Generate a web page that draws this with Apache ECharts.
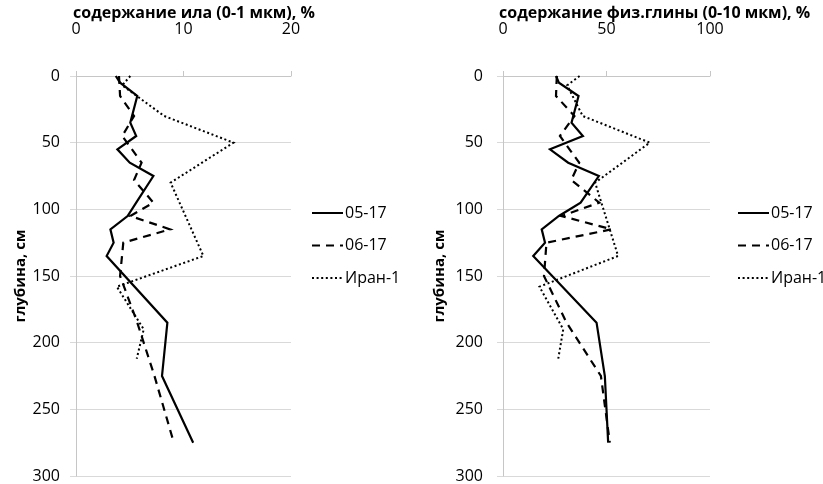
<!DOCTYPE html>
<html>
<head>
<meta charset="utf-8">
<script src="https://cdn.jsdelivr.net/npm/echarts@6/dist/echarts.min.js"></script>
<style>
  html, body { margin: 0; padding: 0; background: #fff; }
  #chart { width: 823px; height: 484px; }
</style>
</head>
<body>
<div id="chart"></div>
<script>
// Depth profiles of two soil fractions for three sections
const seriesNames = ['05-17', '06-17', 'Иран-1'];
const depthTicks = [0, 50, 100, 150, 200, 250, 300];

// Section 05-17
const depth0517 = [0, 5, 15, 35, 45, 55, 65, 75, 95, 105, 115, 125, 135, 185, 225, 275];
const silt0517 = [3.7, 4.1, 5.7, 5.05, 5.6, 3.85, 5.0, 7.2, 5.6, 4.8, 3.2, 3.5, 2.85, 8.5, 8.0, 10.9];
const clay0517 = [25.6, 27, 36.5, 33.1, 38.6, 22.7, 31.5, 46.3, 37.5, 27, 18.7, 20.3, 14.6, 45.2, 49.2, 50.8];

// Section 06-17
const depth0617 = [0, 15, 30, 45, 65, 78, 95, 105, 115, 125, 150, 185, 225, 275];
const silt0617 = [4.0, 4.1, 5.4, 4.3, 6.1, 5.4, 7.2, 5.05, 8.75, 4.4, 4.1, 5.7, 7.3, 9.1];
const clay0617 = [26, 25.6, 34.5, 27.5, 36.8, 33, 46.5, 28.3, 52.4, 21, 19.8, 30.7, 47.3, 51.6];

// Section Иран-1
const depthIran = [0, 7, 30, 50, 80, 135, 158, 190, 212];
const siltIran = [5.05, 4.3, 8.2, 14.65, 8.8, 11.85, 3.8, 6.3, 5.65];
const clayIran = [37, 31, 38.5, 70.9, 44.5, 55.6, 17.6, 29.1, 26.7];

const pairs = (xs, ys) => xs.map((v, i) => [v, ys[i]]);

const FONT = '"Open Sans", "Noto Sans", sans-serif';
const gridColor = '#d9d9d9';
const axisColor = '#c6c6c6';

const lineTypes = [
  { type: 'solid', width: 2.2 },
  { type: [8, 6], width: 2.2 },
  { type: [2, 2.6], width: 2 }
];

function xAxisFor(gridIndex, max, interval) {
  return {
    gridIndex, type: 'value', position: 'top', min: 0, max, interval,
    axisLine: { show: true, lineStyle: { color: axisColor, width: 1 } },
    axisTick: { show: true, inside: false, length: 5, lineStyle: { color: axisColor } },
    splitLine: { show: false },
    axisLabel: { margin: 39, color: '#000', fontFamily: FONT, fontSize: 16 }
  };
}
function yAxisFor(gridIndex) {
  return {
    gridIndex, type: 'value', inverse: true, min: 0, max: 300, interval: 50,
    name: 'глубина, см', nameLocation: 'middle', nameRotate: 90,
    nameGap: gridIndex === 0 ? 47 : 56,
    nameTextStyle: { color: '#000', fontFamily: FONT, fontSize: 15, fontWeight: 'bold' },
    axisLine: { show: true, onZero: false, lineStyle: { color: axisColor, width: 1 } },
    axisTick: { show: true, inside: false, length: 6, lineStyle: { color: gridColor } },
    splitLine: { show: true, lineStyle: { color: gridColor, width: 1 } },
    axisLabel: { margin: gridIndex === 0 ? 16 : 20, color: '#000', fontFamily: FONT, fontSize: 16,
      formatter: v => depthTicks.includes(v) ? String(v) : '' }
  };
}
function lineSeries(name, idx, axisIndex, data) {
  return {
    name, type: 'line', xAxisIndex: axisIndex, yAxisIndex: axisIndex,
    data, symbol: 'none', smooth: false, animation: false,
    lineStyle: Object.assign({ color: '#000', cap: 'butt', join: 'miter' }, lineTypes[idx]),
    itemStyle: { color: '#000' }
  };
}
function legendFor(left, top) {
  return {
    orient: 'vertical', left, top, itemGap: 16.5, itemWidth: 31, itemHeight: 18,
    itemStyle: { opacity: 0 },
    textStyle: { color: '#000', fontFamily: FONT, fontSize: 16, padding: [0, 0, 0, -3] },
    data: seriesNames
  };
}

const chart = echarts.init(document.getElementById('chart'), null, { renderer: 'canvas' });
chart.setOption({
  backgroundColor: '#fff',
  animation: false,
  title: [
    { text: 'содержание ила (0-1 мкм), %', left: 68, top: 0,
      textStyle: { color: '#000', fontFamily: FONT, fontSize: 16, fontWeight: 'bold' } },
    { text: 'содержание физ.глины (0-10 мкм), %', left: 494, top: 0,
      textStyle: { color: '#000', fontFamily: FONT, fontSize: 16, fontWeight: 'bold' } }
  ],
  grid: [
    { left: 76, top: 76, width: 215, height: 401 },
    { left: 503, top: 76, width: 207, height: 401 }
  ],
  xAxis: [xAxisFor(0, 20, 10), xAxisFor(1, 100, 50)],
  yAxis: [yAxisFor(0), yAxisFor(1)],
  legend: [legendFor(306, 200), legendFor(732, 200)],
  series: [
    lineSeries(seriesNames[0], 0, 0, pairs(silt0517, depth0517)),
    lineSeries(seriesNames[1], 1, 0, pairs(silt0617, depth0617)),
    lineSeries(seriesNames[2], 2, 0, pairs(siltIran, depthIran)),
    lineSeries(seriesNames[0], 0, 1, pairs(clay0517, depth0517)),
    lineSeries(seriesNames[1], 1, 1, pairs(clay0617, depth0617)),
    lineSeries(seriesNames[2], 2, 1, pairs(clayIran, depthIran))
  ]
});
</script>
</body>
</html>
